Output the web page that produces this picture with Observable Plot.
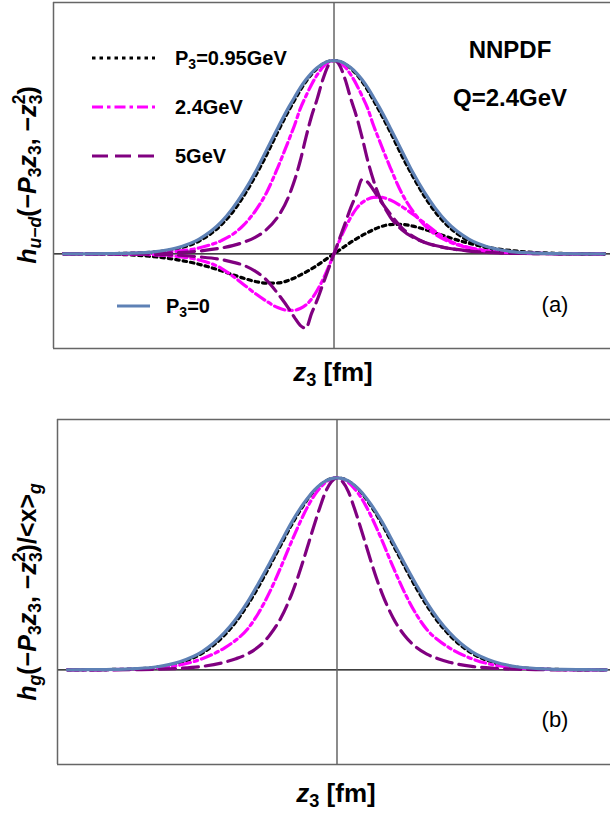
<!DOCTYPE html>
<html><head><meta charset="utf-8">
<script src="https://cdn.jsdelivr.net/npm/d3@7"></script>
<script src="https://cdn.jsdelivr.net/npm/@observablehq/plot@0.6"></script>
<style>
html,body{margin:0;padding:0;background:#fff;overflow:hidden}
#fig{position:relative;width:610px;height:814px;font-family:"Liberation Sans",Arial,Helvetica,sans-serif;color:#000}
.abs{position:absolute;white-space:nowrap;line-height:1}
.panel{position:absolute;left:0}
.lg{font-size:20px;font-weight:bold;transform:translateY(-50%)}
.lg sub{font-size:0.7em;vertical-align:-0.25em;line-height:0}
.big{font-size:24px;font-weight:bold;transform:translate(-50%,-50%)}
.tag{font-size:22px;transform:translate(-50%,-50%)}
.xl{font-size:26px;font-weight:bold;transform:translate(-50%,-50%)}
.xl sub{font-size:0.7em;vertical-align:-0.25em;line-height:0}
.yl{font-size:25px;font-weight:bold;transform:translate(-50%,-50%) rotate(-90deg)}
.yl sub{font-size:0.7em;vertical-align:-0.3em;line-height:0}
.ss{display:inline-block;vertical-align:-0.35em;font-size:0.7em;line-height:0.95;text-align:left}
.ss span{display:block}
</style></head>
<body>
<div id="fig"></div>
<script>
// z3 grid (fm) shared by all series
const z3 = [-1.2,-1.1,-1.0,-0.9,-0.8,-0.7,-0.6,-0.5,-0.45,-0.4,-0.35,-0.3,-0.25,-0.2,-0.175,-0.15,-0.125,-0.1,-0.075,-0.05,-0.025,0,0.025,0.05,0.075,0.1,0.125,0.15,0.175,0.2,0.25,0.3,0.35,0.4,0.45,0.5,0.6,0.7,0.8,0.9,1.0,1.1,1.2];

// Panel (a): h_{u-d}
const aP0     = [0,0,.001,.003,.01,.03,.075,.165,.235,.32,.42,.535,.65,.76,.81,.858,.9,.935,.962,.983,.996,1,.996,.983,.962,.935,.9,.858,.81,.76,.65,.535,.42,.32,.235,.165,.075,.03,.01,.003,.001,0,0];
const aRe095  = [0,0,.001,.003,.009,.025,.065,.15,.215,.3,.4,.51,.63,.742,.795,.845,.89,.928,.958,.981,.995,1,.995,.981,.958,.928,.89,.845,.795,.742,.63,.51,.4,.3,.215,.15,.065,.025,.009,.003,.001,0,0];
const aRe24   = [0,0,.001,.002,.005,.012,.03,.068,.1,.15,.22,.315,.445,.59,.665,.75,.815,.875,.925,.965,.99,1,.99,.965,.925,.875,.815,.75,.665,.59,.445,.315,.22,.15,.1,.068,.03,.012,.005,.002,.001,0,0];
const aRe5    = [0,0,0,.001,.002,.006,.014,.03,.042,.06,.085,.125,.19,.3,.38,.48,.6,.71,.8,.9,.975,1,.975,.9,.8,.71,.6,.48,.38,.3,.19,.125,.085,.06,.042,.03,.014,.006,.002,.001,0,0,0];
const aIm095  = [0,0,-.002,-.006,-.015,-.03,-.054,-.088,-.108,-.127,-.143,-.152,-.151,-.137,-.125,-.11,-.095,-.078,-.06,-.04,-.02,0,.02,.04,.06,.078,.095,.11,.125,.137,.151,.152,.143,.127,.108,.088,.054,.03,.015,.006,.002,0,0];
const aIm24   = [0,0,-.001,-.002,-.005,-.013,-.032,-.075,-.115,-.16,-.205,-.245,-.278,-.293,-.292,-.283,-.265,-.235,-.19,-.135,-.07,0,.07,.135,.19,.235,.265,.283,.292,.293,.278,.245,.205,.16,.115,.075,.032,.013,.005,.002,.001,0,0];
const aIm5    = [0,0,0,-.001,-.003,-.007,-.016,-.03,-.043,-.06,-.09,-.135,-.205,-.285,-.33,-.37,-.385,-.31,-.24,-.16,-.08,0,.08,.16,.24,.31,.385,.37,.33,.285,.205,.135,.09,.06,.043,.03,.016,.007,.003,.001,0,0,0];

// Panel (b): h_g / <x>_g
const bP0     = [0,.001,.002,.006,.016,.042,.095,.195,.265,.35,.45,.555,.665,.772,.82,.864,.903,.937,.964,.984,.996,1,.996,.984,.964,.937,.903,.864,.82,.772,.665,.555,.45,.35,.265,.195,.095,.042,.016,.006,.002,.001,0];
const b095    = [0,0,.002,.005,.014,.037,.087,.182,.25,.335,.432,.54,.65,.76,.81,.856,.898,.933,.962,.983,.996,1,.996,.983,.962,.933,.898,.856,.81,.76,.65,.54,.432,.335,.25,.182,.087,.037,.014,.005,.002,0,0];
const b24     = [0,0,.001,.004,.01,.025,.058,.115,.155,.21,.295,.405,.535,.675,.742,.805,.862,.91,.948,.977,.994,1,.994,.977,.948,.91,.862,.805,.742,.675,.535,.405,.295,.21,.155,.115,.058,.025,.01,.004,.001,0,0];
const b5      = [0,0,0,.001,.003,.008,.018,.04,.058,.082,.12,.18,.27,.4,.48,.57,.665,.76,.85,.93,.98,1,.98,.93,.85,.76,.665,.57,.48,.4,.27,.18,.12,.082,.058,.04,.018,.008,.003,.001,0,0,0];

const legendLabels = ["P3=0.95GeV","2.4GeV","5GeV","P3=0"];

const sty = {
  p095: {stroke:"#000000", strokeWidth:3.2, strokeDasharray:"3.5,4"},
  p24:  {stroke:"#ff00ff", strokeWidth:3.2, strokeDasharray:"11,4,3.5,4"},
  p5:   {stroke:"#800080", strokeWidth:3.2, strokeDasharray:"16,7"},
  p0:   {stroke:"#5e81b5", strokeWidth:3.2}
};

function series(vals){ return z3.map((z,i)=>({z, v: vals[i]})); }
function line(vals, s){ return Plot.line(series(vals), {x:"z", y:"v", curve:"monotone-x", ...s}); }

function panel(cfg){
  const {xdom, ydom, ml, h, mb, lines} = cfg;
  const frame = {stroke:"#666", strokeWidth:1.5};
  return Plot.plot({
    width:610, height:h, marginLeft:ml, marginRight:0, marginTop:2, marginBottom:mb,
    x:{domain:xdom, axis:null}, y:{domain:ydom, axis:null},
    style:{background:"transparent", overflow:"visible"},
    marks:[
      Plot.ruleY([0], {stroke:"#000", strokeWidth:1.2}),
      Plot.ruleX([0], {stroke:"#666", strokeWidth:1.5}),
      ...lines,
      Plot.ruleX([xdom[0]], frame),
      Plot.ruleY([ydom[0], ydom[1]], frame)
    ]
  });
}

const fig = document.getElementById("fig");

const pa = panel({
  xdom:[-1.2445,1.2267], ydom:[-0.49,1.3], ml:53, h:400, mb:52,
  lines:[line(aIm095,sty.p095), line(aIm24,sty.p24), line(aIm5,sty.p5),
         line(aRe095,sty.p095), line(aRe24,sty.p24), line(aRe5,sty.p5), line(aP0,sty.p0)]
});
pa.classList.add("panel"); pa.style.top="0px";
fig.appendChild(pa);

const pb = panel({
  xdom:[-1.2444,1.2177], ydom:[-0.493,1.304], ml:57, h:397, mb:50,
  lines:[line(b095,sty.p095), line(b24,sty.p24), line(b5,sty.p5), line(bP0,sty.p0)]
});
pb.classList.add("panel"); pb.style.top="417px";
fig.appendChild(pb);

function add(html, cls, left, top){
  const d = document.createElement("div");
  d.className = "abs " + cls; d.style.left = left+"px"; d.style.top = top+"px";
  d.innerHTML = html; fig.appendChild(d); return d;
}
function swatch(s, left, top, w){
  const ns="http://www.w3.org/2000/svg";
  const svg=document.createElementNS(ns,"svg");
  svg.setAttribute("width", w); svg.setAttribute("height", 10);
  svg.style.position="absolute"; svg.style.left=left+"px"; svg.style.top=(top-5)+"px";
  const l=document.createElementNS(ns,"line");
  l.setAttribute("x1",0); l.setAttribute("x2",w); l.setAttribute("y1",5); l.setAttribute("y2",5);
  l.setAttribute("stroke", s.stroke); l.setAttribute("stroke-width", s.strokeWidth);
  if (s.strokeDasharray) l.setAttribute("stroke-dasharray", s.strokeDasharray);
  svg.appendChild(l); fig.appendChild(svg);
}
function fmtP(t){ return t.replace("P3","P<sub>3</sub>"); }

// legend
swatch(sty.p095, 92, 58, 63); add(fmtP(legendLabels[0]), "lg", 175, 58);
swatch(sty.p24, 92, 107, 63);  add(fmtP(legendLabels[1]), "lg", 175, 107);
swatch(sty.p5, 92, 156, 66);   add(fmtP(legendLabels[2]), "lg", 175, 156);
swatch(sty.p0, 117, 306, 33);  add(fmtP(legendLabels[3]), "lg", 166, 306);

add("NNPDF", "big", 510, 50);
add("Q=2.4GeV", "big", 510, 98);
add("(a)", "tag", 555, 305);
add("(b)", "tag", 555, 720);

add("<i>z</i><sub>3</sub> [fm]", "xl", 333, 372);
add("<i>z</i><sub>3</sub> [fm]", "xl", 336, 793);

const z32 = '<i>z</i><span class="ss"><span>2</span><span>3</span></span>';
add('<i>h</i><sub><i>u</i>&#8722;<i>d</i></sub>(&#8722;<i>P</i><sub>3</sub><i>z</i><sub>3</sub>, &#8722;'+z32+')', "yl", 28, 175);
add('<i>h</i><sub><i>g</i></sub>(&#8722;<i>P</i><sub>3</sub><i>z</i><sub>3</sub>, &#8722;'+z32+')/&lt;x&gt;<sub><i>g</i></sub>', "yl", 28, 592);
</script>
</body></html>
